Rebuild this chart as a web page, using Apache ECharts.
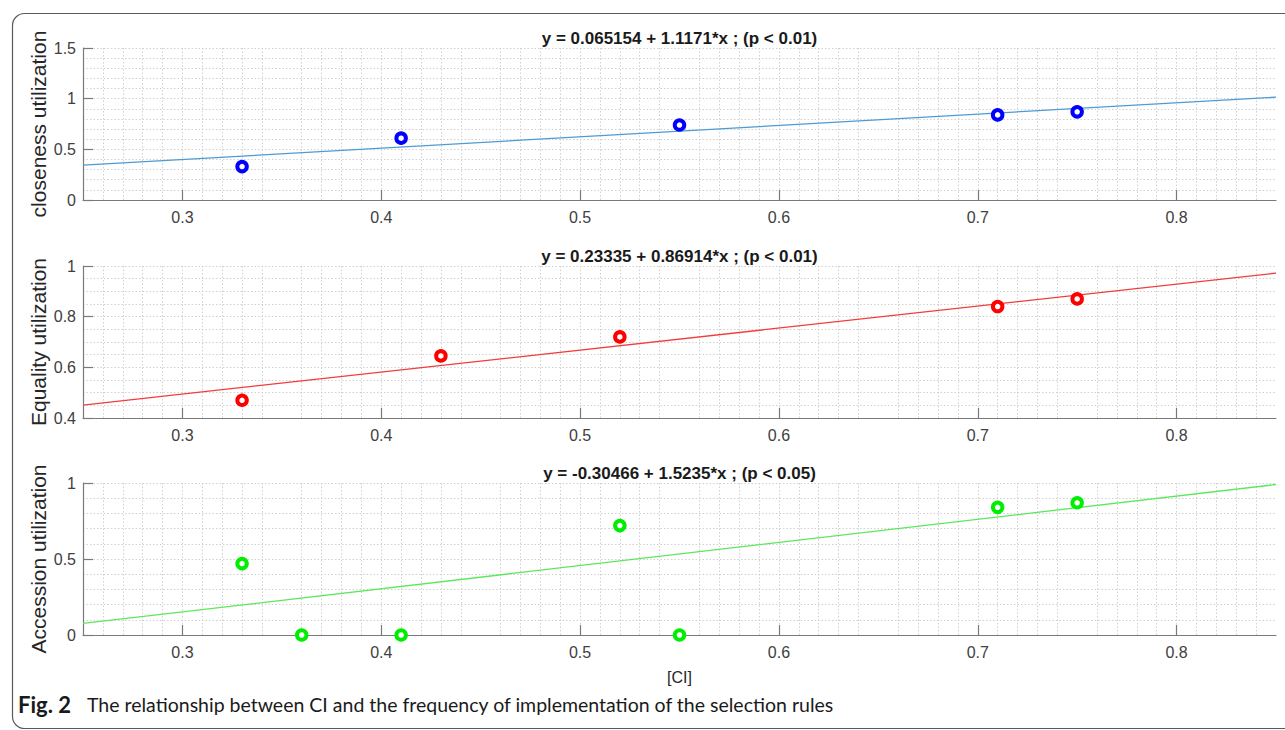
<!DOCTYPE html>
<html>
<head>
<meta charset="utf-8">
<script src="https://cdn.jsdelivr.net/npm/echarts@6/dist/echarts.min.js"></script>
<style>
html,body{margin:0;padding:0;background:#fff;}
#chart{width:1285px;height:730px;}
</style>
</head>
<body>
<div id="chart"></div>
<script>
// ---- data ----
const ciCloseness = [0.33, 0.41, 0.55, 0.71, 0.75];
const closeness = [0.33, 0.61, 0.74, 0.84, 0.87];
const ciEquality = [0.33, 0.43, 0.52, 0.71, 0.75];
const equality = [0.47, 0.645, 0.72, 0.84, 0.87];
const ciAccession = [0.33, 0.36, 0.41, 0.52, 0.55, 0.71, 0.75];
const accession = [0.47, 0.0, 0.0, 0.72, 0.0, 0.84, 0.87];
// fitted line end points (x from 0.25 to 0.85)
const fitX = [0.25, 0.85];
const fitCloseness = [0.344, 1.015];
const fitEquality = [0.451, 0.972];
const fitAccession = [0.076, 0.990];
const titles = [
  'y = 0.065154 + 1.1171*x ; (p < 0.01)',
  'y = 0.23335 + 0.86914*x ; (p < 0.01)',
  'y = -0.30466 + 1.5235*x ; (p < 0.05)'
];
const yNames = ['closeness utilization', 'Equality utilization', 'Accession utilization'];
const xTicks = [0.3, 0.4, 0.5, 0.6, 0.7, 0.8];
const xName = '[CI]';
const captionLabel = 'Fig. 2';
const caption = 'The relationship between CI and the frequency of implementation of the selection rules';

const zip = (a, b) => a.map((v, i) => [v, b[i]]);

const chart = echarts.init(document.getElementById('chart'), null, {renderer: 'svg'});

const gridTops = [48, 266, 483];
const gridH = 152;
const yCfg = [
  {min: 0, max: 1.5, interval: 0.5, minor: 5},
  {min: 0.4, max: 1, interval: 0.2, minor: 4},
  {min: 0, max: 1, interval: 0.5, minor: 5}
];
const FONT = '"Liberation Sans", Arial, sans-serif';
const dotted = {color: '#d0d0d0', type: [1.5, 2], width: 1};

const grids = gridTops.map(t => ({left: 83, right: 9, top: t, height: gridH, containLabel: false}));
const xAxes = gridTops.map((t, i) => ({
  type: 'value', gridIndex: i, min: 0.25, max: 0.85, interval: 0.05,
  name: i === 2 ? xName : '', nameLocation: 'middle', nameGap: 34, nameMoveOverlap: false,
  nameTextStyle: {fontFamily: FONT, fontSize: 16, color: '#262626'},
  axisLine: {show: true, onZero: false, lineStyle: {color: '#7a7a7a', width: 1.2}},
  axisTick: {show: true, inside: true, length: 10, customValues: xTicks, lineStyle: {color: '#7a7a7a', width: 1.2}},
  axisLabel: {show: true, customValues: xTicks, margin: 9, fontFamily: FONT, fontSize: 16, color: '#404040',
    formatter: v => String(Math.round(v * 10) / 10)},
  splitLine: {show: true, lineStyle: dotted},
  minorTick: {show: false, splitNumber: 5},
  minorSplitLine: {show: true, lineStyle: dotted}
}));
const yAxes = yCfg.map((c, i) => ({
  type: 'value', gridIndex: i, min: c.min, max: c.max, interval: c.interval,
  name: yNames[i], nameLocation: 'middle', nameGap: 34, nameRotate: 90, nameMoveOverlap: false,
  nameTextStyle: {fontFamily: FONT, fontSize: 21, color: '#262626'},
  axisLine: {show: true, onZero: false, lineStyle: {color: '#7a7a7a', width: 1.2}},
  axisTick: {show: true, inside: true, length: 10, lineStyle: {color: '#7a7a7a', width: 1.2}},
  axisLabel: {show: true, margin: 7, fontFamily: FONT, fontSize: 16, color: '#404040',
    formatter: v => String(Math.round(v * 10) / 10)},
  splitLine: {show: true, lineStyle: dotted},
  minorTick: {show: false, splitNumber: c.minor},
  minorSplitLine: {show: true, lineStyle: dotted}
}));

const pts = [zip(ciCloseness, closeness), zip(ciEquality, equality), zip(ciAccession, accession)];
const fits = [zip(fitX, fitCloseness), zip(fitX, fitEquality), zip(fitX, fitAccession)];
const lineColors = ['#4d9ad4', '#f23c3c', '#5be85b'];
const dotColors = ['#0000ff', '#ff0000', '#00ee00'];

const series = [];
for (let i = 0; i < 3; i++) {
  series.push({
    type: 'line', xAxisIndex: i, yAxisIndex: i, data: fits[i], showSymbol: false, silent: true,
    lineStyle: {color: lineColors[i], width: 1.3}, z: 3, animation: false
  });
  series.push({
    type: 'scatter', xAxisIndex: i, yAxisIndex: i, data: pts[i], symbol: 'circle', symbolSize: 9.5,
    itemStyle: {color: '#ffffff', borderColor: dotColors[i], borderWidth: 4, opacity: 1}, z: 4, animation: false
  });
}

const graphics = [
  {type: 'rect', left: 10, top: 11, shape: {x: 0, y: 0, width: 1300, height: 715, r: 12}, z: -10,
   style: {fill: 'none', stroke: '#5a5a5a', lineWidth: 1.2}, silent: true}
];
titles.forEach((t, i) => {
  graphics.push({type: 'text', x: 679.5, y: gridTops[i] - 10, z: 10,
    style: {text: t, fill: '#1a1a1a', font: 'bold 17px ' + FONT, textAlign: 'center', textVerticalAlign: 'middle'}});
});
graphics.push({type: 'text', x: 18, y: 704, z: 10,
  style: {text: captionLabel, textVerticalAlign: 'middle', fill: '#1a1a1a',
    font: 'bold 22px Lato, "Open Sans", sans-serif'}});
graphics.push({type: 'text', x: 87, y: 704, z: 10,
  style: {text: caption, textVerticalAlign: 'middle', fill: '#1a1a1a',
    font: '19.5px Lato, "Open Sans", sans-serif'}});

chart.setOption({
  animation: false,
  backgroundColor: '#ffffff',
  grid: grids, xAxis: xAxes, yAxis: yAxes, series: series, graphic: graphics
});
</script>
</body>
</html>
